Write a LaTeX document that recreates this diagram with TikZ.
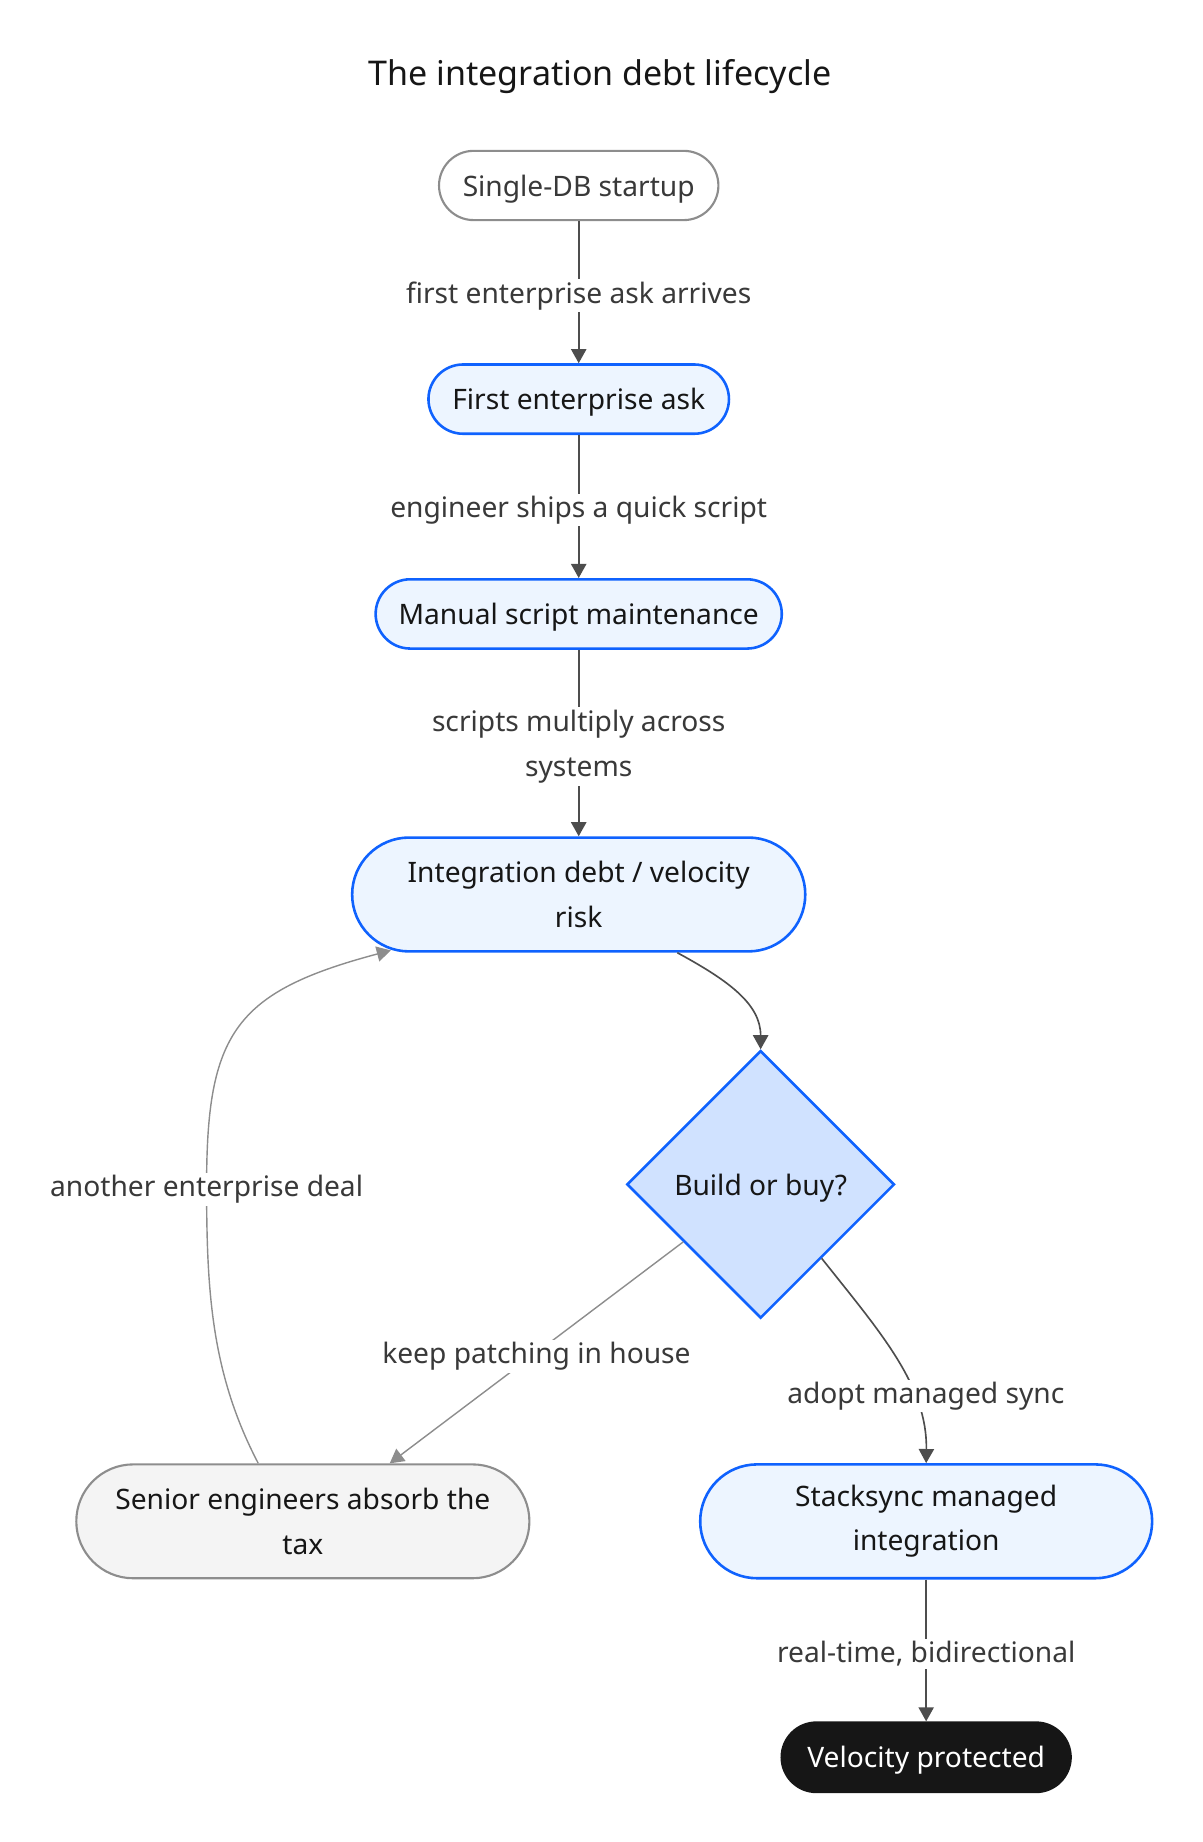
\documentclass[tikz,border=0pt]{standalone}
\usepackage{fontspec}
\setmainfont{Noto Sans}
\usetikzlibrary{arrows.meta,shapes.geometric}

\definecolor{blueline}{HTML}{0F62FE}
\definecolor{bluefill}{HTML}{EDF5FF}
\definecolor{bluedeep}{HTML}{D0E2FF}
\definecolor{greyfill}{HTML}{F4F4F4}
\definecolor{greyline}{HTML}{8D8D8D}
\definecolor{edgeline}{HTML}{4D4D4D}
\definecolor{inkdark}{HTML}{161616}
\definecolor{labelink}{HTML}{393939}

\begin{document}
\begin{tikzpicture}[x=1pt, y=-1pt,
    base/.style = {rectangle, draw=blueline, fill=bluefill, line width=2.2pt,
text=inkdark, align=center, inner sep=0pt,
font=\fontsize{24}{38}\selectfont},
stepbox/.style = {base, minimum height=59pt, rounded corners=29.5pt, text depth=0pt},
bigbox/.style = {base, minimum height=97pt, rounded corners=48.5pt},
startbox/.style = {stepbox, draw=greyline, fill=white, line width=1.8pt, text=labelink},
pain/.style = {bigbox, draw=greyline, fill=greyfill, line width=1.8pt},
decision/.style = {diamond, draw=blueline, fill=bluedeep, line width=2.2pt,
aspect=1, minimum width=228pt, minimum height=228pt, inner sep=0pt, text depth=0pt,
text=inkdark, font=\fontsize{24}{38}\selectfont},
outcome/.style = {stepbox, draw=inkdark, fill=inkdark, text=white},
lbl/.style = {fill=white, text=labelink, align=center, inner sep=2pt, yshift=-3pt,
font=\fontsize{24}{39}\selectfont},
flow/.style = {draw=edgeline, line width=1.4pt, -{Triangle[length=12pt, width=13pt]}},
loop/.style = {flow, draw=greyline, line width=1.2pt}
]

  \useasboundingbox (0,0) rectangle (1024,1569.2);

  \node (title) at (511,65) [font=\fontsize{29}{34}\selectfont, text=inkdark] {The integration debt lifecycle};

  \node (start)    [startbox, minimum width=238pt] at (493,158) {Single-DB startup};
  \node (ask)      [stepbox, minimum width=256pt] at (493,340) {First enterprise ask};
  \node (manual)   [stepbox, minimum width=346pt] at (493,523) {Manual script maintenance};
  \node (debt)     [bigbox, minimum width=386pt] at (493,762) {Integration debt / velocity\\risk};
  \node (choice)   [decision] at (648,1009) {Build or buy?};
  \node (senior)   [pain, minimum width=386pt] at (258,1296) {Senior engineers absorb the\\tax};
  \node (stacksync) [bigbox, minimum width=385pt] at (789,1296) {Stacksync managed\\integration};
  \node (velocity) [outcome, minimum width=246pt] at (789,1497) {Velocity protected};

  \draw[flow] (start) -- node[lbl] {first enterprise ask arrives} (ask);
  \draw[flow] (ask) -- node[lbl] {engineer ships a quick script} (manual);
  \draw[flow] (manual) -- node[lbl] {scripts multiply across\\systems} (debt);
  \draw[flow] ([xshift=84pt]debt.south) .. controls (620,835) and (648,855) .. (choice.north);
  \draw[loop] ([xshift=-66pt, yshift=-49pt]choice.center) -- node[lbl] {keep patching in house} ([xshift=74pt]senior.north);
  \draw[flow] ([xshift=52pt, yshift=-63pt]choice.center) .. controls (750,1135) and (790,1180)
      .. node[lbl, pos=0.67, xshift=11pt] {adopt managed sync} (stacksync.north);
  \draw[flow] (stacksync) -- node[lbl] {real-time, bidirectional} (velocity);
  \draw[loop] ([xshift=-38pt]senior.north) .. controls (180,1170) and (176,1100) .. (176,1010)
      node[lbl] {another enterprise deal}
      .. controls (176,880) and (200,845) .. ([xshift=-160pt, yshift=2pt]debt.south);

\end{tikzpicture}
\end{document}
